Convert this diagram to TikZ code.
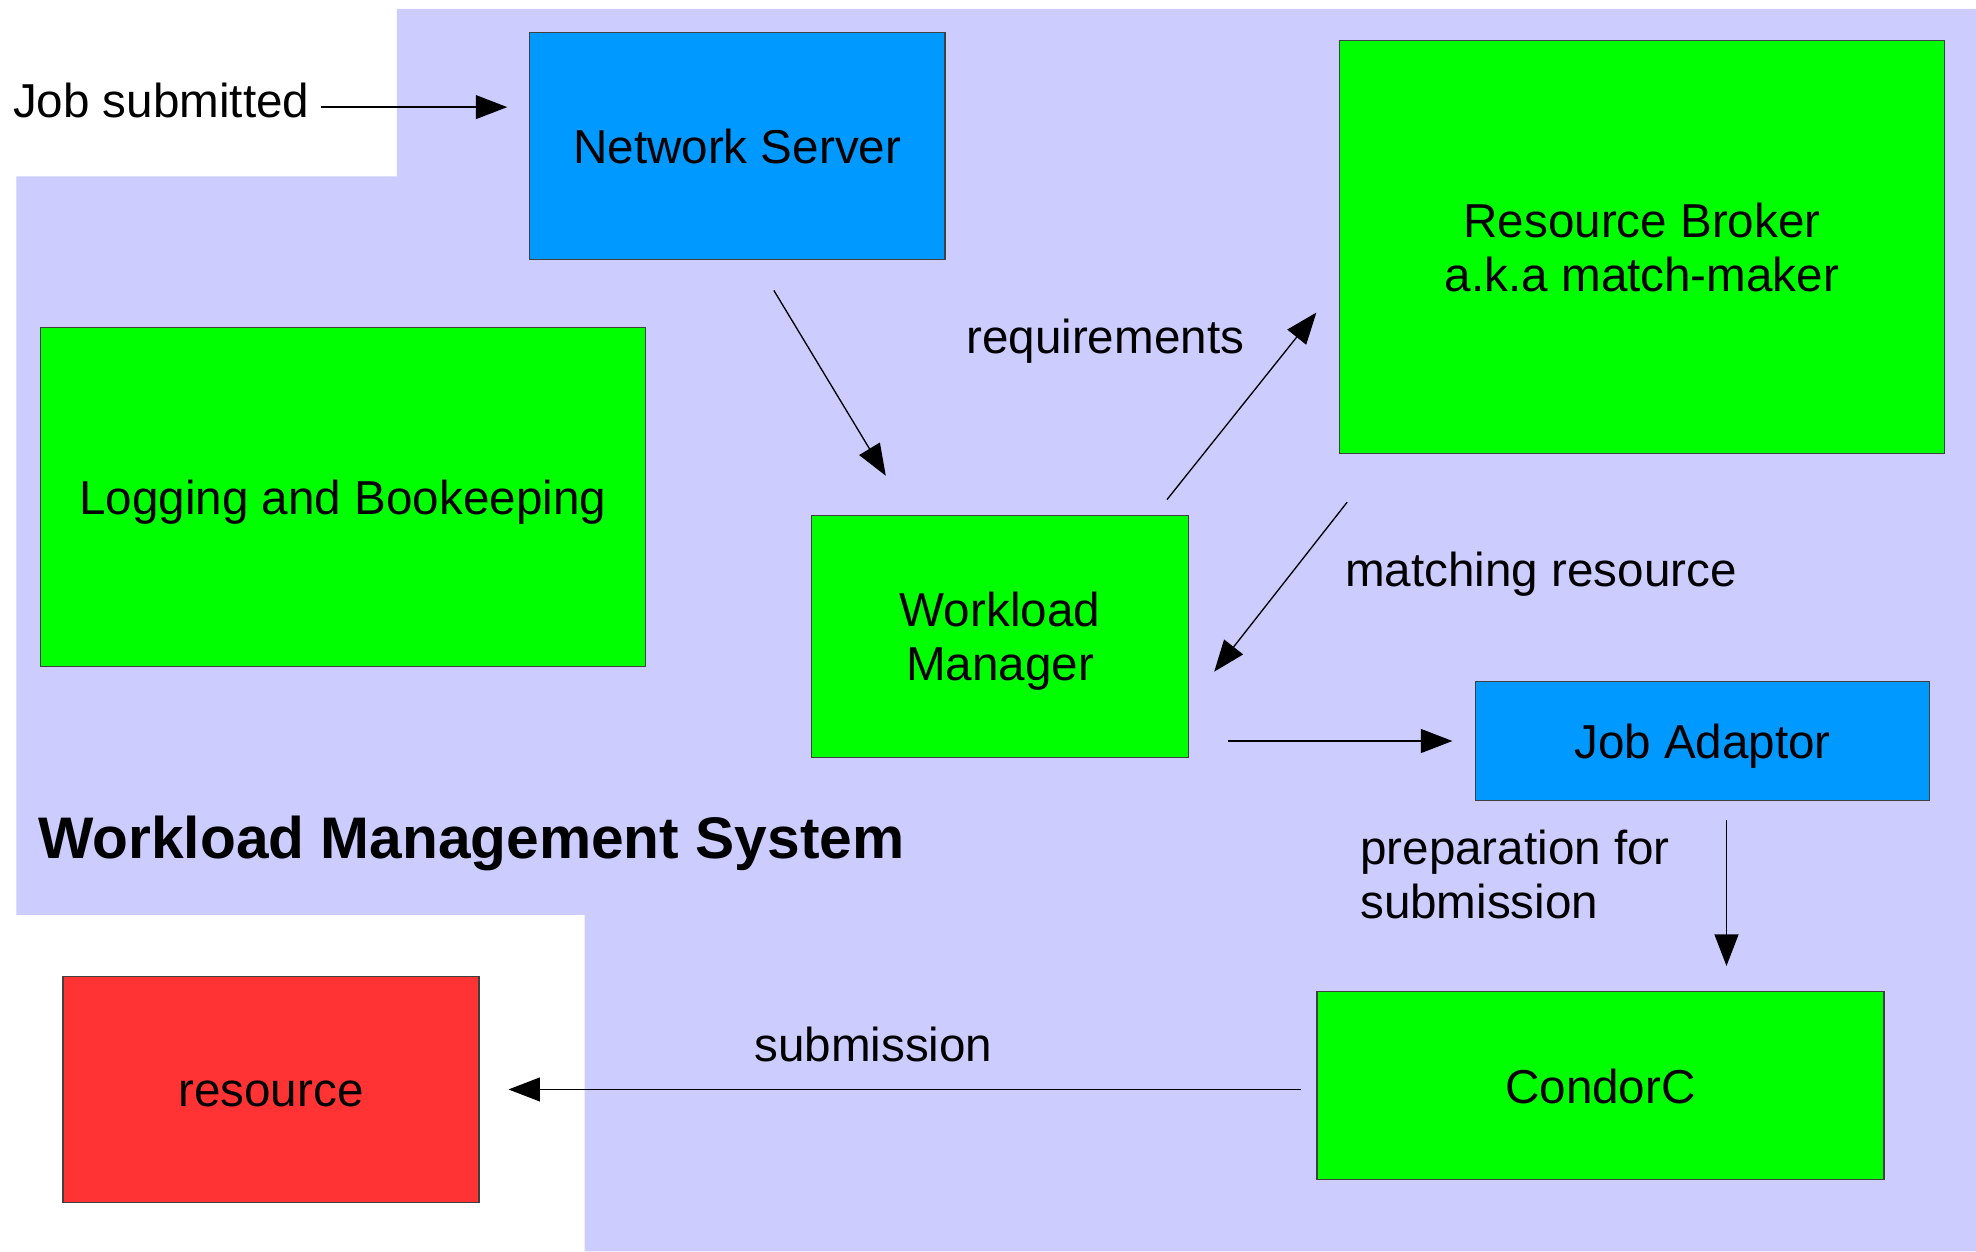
\documentclass[tikz,border=0pt]{standalone}
\usepackage{fontspec}
\setmainfont{Liberation Sans}
\usetikzlibrary{arrows.meta,calc}
\definecolor{lav}{HTML}{CCCCFF}
\definecolor{nsblue}{HTML}{0099FF}
\definecolor{gr}{HTML}{00FF00}
\definecolor{rd}{HTML}{FF3333}
\tikzset{
  box/.style={draw=black!75, line width=0.6pt, inner sep=0pt,
    text depth=0pt, font=\fontsize{21.5}{24.5}\selectfont},
  oneline/.style={text height=15.7pt},
  multi/.style={align=center},
  lab/.style={inner sep=0pt, font=\fontsize{21.5}{24.3}\selectfont},
  arr/.style={line width=0.6pt, -{Triangle[length=0.5cm,width=0.38cm]}}
}
\begin{document}
\begin{tikzpicture}[x=0.02cm,y=-0.02cm]
\useasboundingbox (0,0) rectangle (1568,993);
\fill[white] (0,0) rectangle (1568,993);
\fill[lav] (315,7) -- (1568,7) -- (1568,993) -- (464,993) -- (464,726) -- (13,726) -- (13,140) -- (315,140) -- cycle;

\node[box, oneline, fill=nsblue, minimum width=6.6cm, minimum height=3.6cm] (ns) at (585,116) {Network Server};
\node[box, multi, fill=gr, minimum width=9.6cm, minimum height=6.56cm] (rb) at (1303,196) {Resource Broker\\a.k.a match-maker};
\node[box, oneline, fill=gr, minimum width=9.6cm, minimum height=5.38cm] (lb) at (272,394.5) {Logging and Bookeeping};
\node[box, multi, fill=gr, minimum width=5.98cm, minimum height=3.84cm] (wm) at (793.5,505) {Workload\\Manager};
\node[box, oneline, fill=nsblue, minimum width=7.2cm, minimum height=1.88cm] (ja) at (1351,588) {Job Adaptor};
\node[box, oneline, fill=gr, minimum width=9.0cm, minimum height=2.98cm] (cc) at (1270,861.5) {CondorC};
\node[box, oneline, fill=rd, minimum width=6.6cm, minimum height=3.58cm] (res) at (215,864.5) {resource};

\node[lab, anchor=base west] (js) at (10,93.5) {Job submitted};
\node[lab, anchor=base] (lreq) at (877,280.5) {requirements};
\node[lab, anchor=base west] (lmatch) at (1067,465.5) {matching resource};
\node[lab, anchor=west, align=left] (lprep) at (1079,693.7) {preparation for\\submission};
\node[lab, anchor=base] (lsub) at (693,842.5) {submission};
\node[inner sep=0pt, anchor=base west, font=\fontsize{26.5}{30}\selectfont\bfseries] (title) at (30,681.5) {Workload Management System};

\draw[arr, shorten <=0.18cm, shorten >=0.34cm] ($(js.base east)+(0,-8.5)$) coordinate (j1) -- (j1 -| ns.west);
\draw[arr, shorten <=0.56cm, shorten >=0.724cm] ($(ns.south)+(14.6,0)$) -- ($(wm.north)+(-71.9,0)$);
\draw[arr, shorten <=0.308cm, shorten >=0.576cm] ($(wm.north)+(122.9,0)$) -- ($(rb.west)+(0,29.5)$);
\draw[arr, shorten <=0.966cm, shorten >=0.648cm] ($(rb.south)+(-204.2,0)$) -- ($(wm.east)+(0,53.5)$);
\draw[arr, shorten <=0.62cm, shorten >=0.36cm] (wm.east |- ja.west) -- (ja.west);
\draw[arr, shorten <=0.30cm, shorten >=0.40cm] ($(ja.south)+(19,0)$) coordinate (j6) -- (j6 |- cc.north);
\draw[arr, shorten <=0.24cm, shorten >=0.46cm] (cc.west |- res.east) -- (res.east);
\end{tikzpicture}
\end{document}
